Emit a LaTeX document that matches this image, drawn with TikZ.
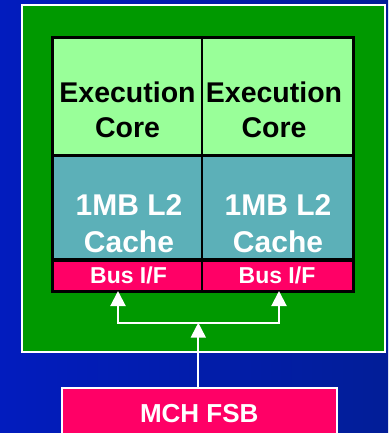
\documentclass[tikz,border=0pt]{standalone}
\usepackage{fontspec}
\setmainfont{Liberation Sans}
\usetikzlibrary{arrows.meta}
\definecolor{bgL}{RGB}{2,28,190}
\definecolor{bgR}{RGB}{2,30,152}
\definecolor{dieGreen}{RGB}{0,153,0}
\definecolor{coreGreen}{RGB}{153,255,153}
\definecolor{cacheTeal}{RGB}{92,176,184}
\definecolor{busPink}{RGB}{255,0,102}
\begin{document}
\begin{tikzpicture}[x=1pt,y=-1pt,
  cell/.style={draw=none, inner sep=0pt, outer sep=0pt},
  corecell/.style={cell, fill=coreGreen, minimum height=117pt},
  cachecell/.style={cell, fill=cacheTeal, minimum height=104.5pt},
  buscell/.style={cell, fill=busPink, minimum height=31.5pt},
  coretxt/.style={font=\bfseries\fontsize{28.5}{35}\selectfont, align=center, text=black, inner sep=0pt},
  cachetxt/.style={font=\bfseries\fontsize{30}{37}\selectfont, align=center, text=white, inner sep=0pt},
  bustxt/.style={font=\bfseries\fontsize{23}{27}\selectfont, text=white, inner sep=0pt, anchor=base},
  frame/.style={draw=black},
  wire/.style={draw=white, line width=2pt},
  arr/.style={wire, -{Triangle[length=15pt,width=15pt]}}]
\clip (0,0) rectangle (388,433);
% backdrop
\shade[left color=bgL, right color=bgR] (0,0) rectangle (388,433);

% processor package
\node[cell, draw=white, line width=2pt, fill=dieGreen,
      minimum width=363pt, minimum height=346.8pt] (die) at (203.5,178.9) {};

% cores, caches and bus interfaces
\node[corecell, minimum width=149.5pt] (coreL) at (127.25,96.5) {};
\node[corecell, minimum width=151.5pt] (coreR) at (277.75,96.5) {};
\node[cachecell, minimum width=149.5pt] (cacheL) at (127.25,207.25) {};
\node[cachecell, minimum width=151.5pt] (cacheR) at (277.75,207.25) {};
\node[buscell, minimum width=149.5pt] (busL) at (127.25,275.25) {};
\node[buscell, minimum width=151.5pt] (busR) at (277.75,275.25) {};

% black cell borders
\draw[frame, line width=3pt] (coreL.north west) rectangle (busR.south east);
\draw[frame, line width=3pt] (coreL.south west) -- (coreR.south east);
\draw[frame, line width=4pt] (cacheL.south west) -- (cacheR.south east);
\draw[frame, line width=2pt] (coreL.north east) -- (busL.south east);

% labels
\node[coretxt] (coreLtxt) at (127.5,109.4) {Execution\\Core};
\node[coretxt] (coreRtxt) at (274,109.4) {Execution\\Core};
\node[cachetxt] (cacheLtxt) at (129,223.5) {1MB L2\\Cache};
\node[cachetxt] (cacheRtxt) at (278,223.5) {1MB L2\\Cache};
\node[bustxt] (busLtxt) at (128.5,283) {Bus I/F};
\node[bustxt] (busRtxt) at (277,283) {Bus I/F};

% memory controller hub
\node[cell, draw=white, line width=2pt, fill=busPink, anchor=north,
      minimum width=275.5pt, text height=18.6pt, text depth=0pt,
      inner ysep=15.4pt, text=white,
      font=\bfseries\fontsize{26}{30}\selectfont] (mch) at (199.25,388) {MCH FSB};

% front side bus
\coordinate (split) at (198.3,322.7);
\draw[arr] (mch.north -| split) -- (split);
\draw[arr] (split) -| ([xshift=-9.25pt]busL.south);
\draw[arr] (split) -| ([xshift=1.25pt]busR.south);
\end{tikzpicture}
\end{document}
